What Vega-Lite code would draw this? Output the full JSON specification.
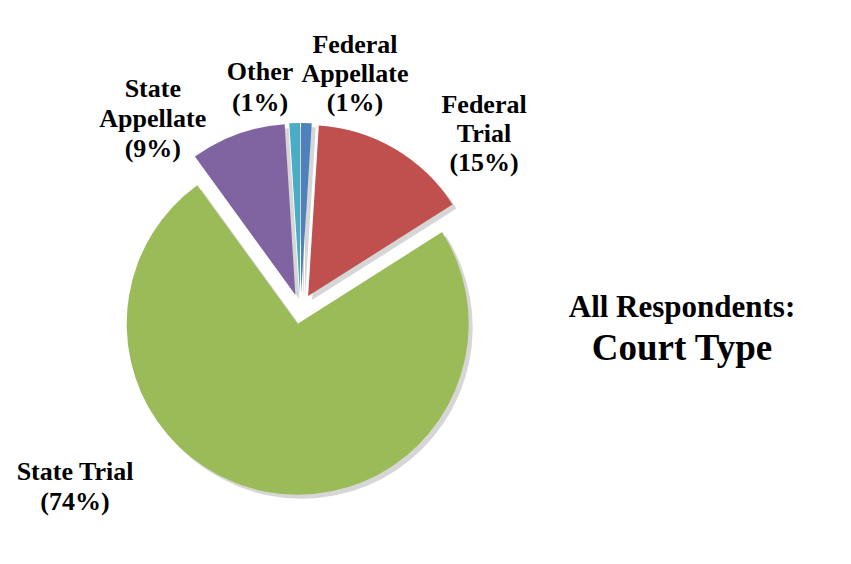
{
  "$schema": "https://vega.github.io/schema/vega-lite/v6.json",
  "width": 601,
  "height": 510,
  "autosize": "none",
  "padding": {"left": 0, "top": 54, "right": 250, "bottom": 0},
  "background": "white",
  "config": {"view": {"stroke": null}, "font": "Liberation Serif"},
  "title": {
    "text": "All Respondents:",
    "subtitle": "Court Type",
    "font": "Liberation Serif",
    "fontSize": 31,
    "fontWeight": "bold",
    "color": "black",
    "subtitleFont": "Liberation Serif",
    "subtitleFontSize": 37,
    "subtitleFontWeight": "bold",
    "subtitleColor": "black",
    "subtitlePadding": 7,
    "anchor": "start",
    "frame": "group",
    "align": "center",
    "dx": 682,
    "dy": 340
  },
  "data": {
    "values": [
      {"court": "Federal Appellate", "pct": 1, "label": "Federal\nAppellate\n(1%)"},
      {"court": "Federal Trial", "pct": 15, "label": "Federal\nTrial\n(15%)"},
      {"court": "State Trial", "pct": 74, "label": "State Trial\n(74%)"},
      {"court": "State Appellate", "pct": 9, "label": "State\nAppellate\n(9%)"},
      {"court": "Other", "pct": 1, "label": "Other\n(1%)"}
    ]
  },
  "transform": [{"stack": "pct", "groupby": [], "as": ["t0", "t1"]}],
  "encoding": {
    "theta": {"field": "t0", "type": "quantitative", "scale": {"domain": [0, 100]}}
  },
  "layer": [
    {"transform": [{"filter": "datum.court == 'Federal Appellate'"}], "mark": {"type": "arc", "outerRadius": 171, "xOffset": 4.5, "yOffset": -11, "color": "#8a8a8a", "opacity": 0.35}, "encoding": {"theta2": {"field": "t1"}}},
    {"transform": [{"filter": "datum.court == 'Federal Trial'"}], "mark": {"type": "arc", "outerRadius": 171, "xOffset": 11.6, "yOffset": -8.9, "color": "#8a8a8a", "opacity": 0.35}, "encoding": {"theta2": {"field": "t1"}}},
    {"transform": [{"filter": "datum.court == 'State Trial'"}], "mark": {"type": "arc", "outerRadius": 171, "xOffset": 1.2, "yOffset": 18.7, "color": "#8a8a8a", "opacity": 0.35}, "encoding": {"theta2": {"field": "t1"}}},
    {"transform": [{"filter": "datum.court == 'State Appellate'"}], "mark": {"type": "arc", "outerRadius": 171, "xOffset": -1.1, "yOffset": -10.1, "color": "#8a8a8a", "opacity": 0.35}, "encoding": {"theta2": {"field": "t1"}}},
    {"transform": [{"filter": "datum.court == 'Other'"}], "mark": {"type": "arc", "outerRadius": 171, "xOffset": 3.5, "yOffset": -11, "color": "#8a8a8a", "opacity": 0.35}, "encoding": {"theta2": {"field": "t1"}}},

    {"transform": [{"filter": "datum.court == 'Federal Appellate'"}], "mark": {"type": "arc", "outerRadius": 171, "xOffset": 0.5, "yOffset": -15, "color": "#4F81BD"}, "encoding": {"theta2": {"field": "t1"}}},
    {"transform": [{"filter": "datum.court == 'Federal Trial'"}], "mark": {"type": "arc", "outerRadius": 171, "xOffset": 7.6, "yOffset": -12.9, "color": "#C0504D"}, "encoding": {"theta2": {"field": "t1"}}},
    {"transform": [{"filter": "datum.court == 'State Trial'"}], "mark": {"type": "arc", "outerRadius": 171, "xOffset": -2.8, "yOffset": 14.7, "color": "#9BBB59"}, "encoding": {"theta2": {"field": "t1"}}},
    {"transform": [{"filter": "datum.court == 'State Appellate'"}], "mark": {"type": "arc", "outerRadius": 171, "xOffset": -5.1, "yOffset": -14.1, "color": "#8064A2"}, "encoding": {"theta2": {"field": "t1"}}},
    {"transform": [{"filter": "datum.court == 'Other'"}], "mark": {"type": "arc", "outerRadius": 171, "xOffset": -0.5, "yOffset": -15, "color": "#4BACC6"}, "encoding": {"theta2": {"field": "t1"}}},

    {"transform": [{"filter": "datum.court == 'Federal Appellate'"}], "mark": {"type": "text", "radius": 235.5, "dx": 54.5, "dy": -29, "lineBreak": "\n", "lineHeight": 29, "fontSize": 26, "fontWeight": "bold", "font": "Liberation Serif", "align": "center", "baseline": "middle", "color": "black"}, "encoding": {"text": {"field": "label"}}},
    {"transform": [{"filter": "datum.court == 'Federal Trial'"}], "mark": {"type": "text", "radius": 176.3, "dx": 172.5, "dy": -28.5, "lineBreak": "\n", "lineHeight": 29, "fontSize": 26, "fontWeight": "bold", "font": "Liberation Serif", "align": "center", "baseline": "middle", "color": "black"}, "encoding": {"text": {"field": "label"}}},
    {"transform": [{"filter": "datum.court == 'State Trial'"}], "mark": {"type": "text", "radius": 0, "dx": -225.5, "dy": 162.5, "lineBreak": "\n", "lineHeight": 30, "fontSize": 26, "fontWeight": "bold", "font": "Liberation Serif", "align": "center", "baseline": "middle", "color": "black"}, "encoding": {"text": {"field": "label"}}},
    {"transform": [{"filter": "datum.court == 'State Appellate'"}], "mark": {"type": "text", "radius": 236, "dx": -9, "dy": -29.5, "lineBreak": "\n", "lineHeight": 30, "fontSize": 26, "fontWeight": "bold", "font": "Liberation Serif", "align": "center", "baseline": "middle", "color": "black"}, "encoding": {"text": {"field": "label"}}},
    {"transform": [{"filter": "datum.court == 'Other'"}], "mark": {"type": "text", "radius": 222.4, "dx": -26.5, "dy": -15, "lineBreak": "\n", "lineHeight": 31, "fontSize": 26, "fontWeight": "bold", "font": "Liberation Serif", "align": "center", "baseline": "middle", "color": "black"}, "encoding": {"text": {"field": "label"}}}
  ]
}
